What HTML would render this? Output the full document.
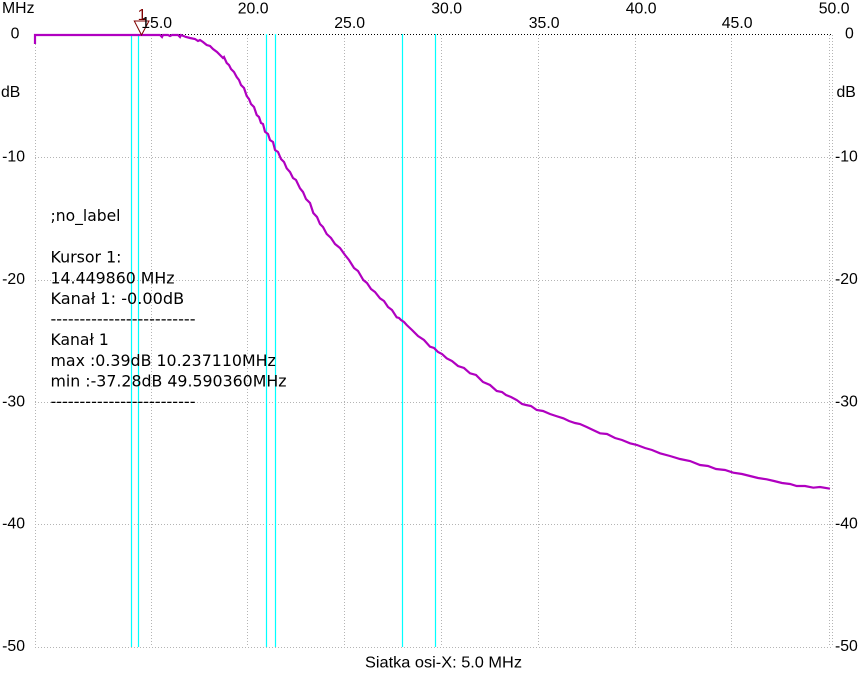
<!DOCTYPE html>
<html>
<head>
<meta charset="utf-8">
<style>
html,body{margin:0;padding:0;background:#fff;}
svg{display:block;}
.ax{font-family:"Liberation Sans","DejaVu Sans",sans-serif;font-size:15.8px;fill:#000;}
.tb{font-family:"DejaVu Sans","Liberation Sans",sans-serif;font-size:16px;fill:#000;}
</style>
</head>
<body>
<svg width="866" height="682" viewBox="0 0 866 682" xmlns="http://www.w3.org/2000/svg">
<rect x="0" y="0" width="866" height="682" fill="#fff"/>
<g stroke="#b4b4b4" stroke-width="1" stroke-dasharray="1,2">
<line x1="35.5" y1="35" x2="35.5" y2="647"/>
<line x1="151.5" y1="35" x2="151.5" y2="647"/>
<line x1="247.5" y1="35" x2="247.5" y2="647"/>
<line x1="344.5" y1="35" x2="344.5" y2="647"/>
<line x1="441.5" y1="35" x2="441.5" y2="647"/>
<line x1="538.5" y1="35" x2="538.5" y2="647"/>
<line x1="635.5" y1="35" x2="635.5" y2="647"/>
<line x1="731.5" y1="35" x2="731.5" y2="647"/>
<line x1="829.5" y1="35" x2="829.5" y2="647"/>
<line x1="832.5" y1="35" x2="832.5" y2="647"/>
</g>
<g stroke="#b4b4b4" stroke-width="1" stroke-dasharray="1,2">
<line x1="35" y1="157.5" x2="833" y2="157.5"/>
<line x1="35" y1="280.5" x2="833" y2="280.5"/>
<line x1="35" y1="402.5" x2="833" y2="402.5"/>
<line x1="35" y1="524.5" x2="833" y2="524.5"/>
<line x1="35" y1="647.5" x2="833" y2="647.5"/>
</g>
<line x1="35" y1="34.5" x2="833" y2="34.5" stroke="#000" stroke-width="1" stroke-dasharray="1,2"/>
<g stroke="#00ffff" stroke-width="1.2">
<line x1="131.5" y1="34" x2="131.5" y2="647"/>
<line x1="138.5" y1="34" x2="138.5" y2="647"/>
<line x1="266.5" y1="34" x2="266.5" y2="647"/>
<line x1="275.5" y1="34" x2="275.5" y2="647"/>
<line x1="402.5" y1="34" x2="402.5" y2="647"/>
<line x1="435.5" y1="34" x2="435.5" y2="647"/>
</g>
<polyline fill="none" stroke="#b000c0" stroke-width="2.2" stroke-linejoin="miter"
points="35,44 35,35 160,35 162,37 163,35 168,35 170,36 172,35 178,35 180,37 181,35 186,37 190,38 195,39 198,41 200,40 203,42 206.7,45 210,46 213,49 217,52 220,55 223,58 224,57 226.7,63 229,65 231,69 234,72 236.7,77 239,80 241,85 244,88 246.7,96 249,99 251,104 254,107 256.7,115 259,117 261,123 263,124 265,131.7 268,134 270,140 273,142 275,150 278,152 281,159 284,162 286.7,168.3 290,172 293,178 296,180 300,188.3 303,192 306,199 310,203 313.3,213 317,217 320,224 323,227 326.7,234 331,238 335,244 340,248 345,255 349,260 354,268 358,271 363.3,280 367,283 371,289 375,292 380,298.3 384,301 388,307 392,310 396.7,317.3 399,318 401,320 404,322 406.7,325 412,330 418,336 424,340 430,346.7 434,348 438,352 442,354 446.7,358.3 452,361 458,366 464,368 470,373.3 476,375 483,382 490,385 496.7,391 502,392 506,395 511,397 516.7,400 522,404 526,405 531,406 536.7,410 543,411 550,414 556,416 563.3,418.3 569,421 575,423 580,424 586.7,427 593,430 600,433.3 607,434 615,438 622,440 630,443.3 637,445 645,448 652,450 660,453.3 670,456 680,459 690,461 700,465 708,466 716,469 725,470 733.3,472.7 742,474 750,476 758,478 766.7,479.3 774,481 782,483 790,484 796.7,486 805,486 813.3,487.7 820,487 830,488.7"/>
<polygon points="134.3,21 149,21 141.5,35" fill="none" stroke="#800000" stroke-width="1"/>
<text x="142" y="20" class="ax" style="fill:#800000" text-anchor="middle">1</text>
<text class="ax" x="2" y="13">MHz</text>
<text class="ax" x="172" y="28" text-anchor="end">15.0</text>
<text class="ax" x="268.5" y="13.5" text-anchor="end">20.0</text>
<text class="ax" x="365" y="28" text-anchor="end">25.0</text>
<text class="ax" x="462" y="13.5" text-anchor="end">30.0</text>
<text class="ax" x="559.5" y="28" text-anchor="end">35.0</text>
<text class="ax" x="656.5" y="13.5" text-anchor="end">40.0</text>
<text class="ax" x="752.5" y="28" text-anchor="end">45.0</text>
<text class="ax" x="849.5" y="13.5" text-anchor="end">50.0</text>
<text class="ax" x="15" y="38.5" text-anchor="middle">0</text>
<text class="ax" x="1" y="97">dB</text>
<text class="ax" x="25" y="161.5" text-anchor="end">-10</text>
<text class="ax" x="25" y="284" text-anchor="end">-20</text>
<text class="ax" x="25" y="406.5" text-anchor="end">-30</text>
<text class="ax" x="25" y="528.5" text-anchor="end">-40</text>
<text class="ax" x="25" y="651" text-anchor="end">-50</text>
<text class="ax" x="845" y="38.5">0</text>
<text class="ax" x="836.5" y="97">dB</text>
<text class="ax" x="835" y="161.5">-10</text>
<text class="ax" x="835" y="284">-20</text>
<text class="ax" x="835" y="406.5">-30</text>
<text class="ax" x="835" y="528.5">-40</text>
<text class="ax" x="835" y="651">-50</text>
<text class="ax" x="365" y="667.5" textLength="157" lengthAdjust="spacingAndGlyphs">Siatka osi-X: 5.0 MHz</text>
<text class="tb" x="50.5" y="221" textLength="70" lengthAdjust="spacingAndGlyphs">;no_label</text>
<text class="tb" x="50.5" y="262.7" textLength="71" lengthAdjust="spacingAndGlyphs">Kursor 1:</text>
<text class="tb" x="50.5" y="283.3" textLength="124" lengthAdjust="spacingAndGlyphs">14.449860 MHz</text>
<text class="tb" x="50.5" y="304" textLength="133.7" lengthAdjust="spacingAndGlyphs">Kanał 1: -0.00dB</text>
<text class="tb" x="50.5" y="324.6" textLength="145" lengthAdjust="spacingAndGlyphs">-------------------------</text>
<text class="tb" x="50.5" y="345.2" textLength="58.3" lengthAdjust="spacingAndGlyphs">Kanał 1</text>
<text class="tb" x="50.5" y="365.8" textLength="225.3" lengthAdjust="spacingAndGlyphs">max :0.39dB 10.237110MHz</text>
<text class="tb" x="50.5" y="386.4" textLength="236" lengthAdjust="spacingAndGlyphs">min :-37.28dB 49.590360MHz</text>
<text class="tb" x="50.5" y="407" textLength="145" lengthAdjust="spacingAndGlyphs">-------------------------</text>
</svg>
</body>
</html>
